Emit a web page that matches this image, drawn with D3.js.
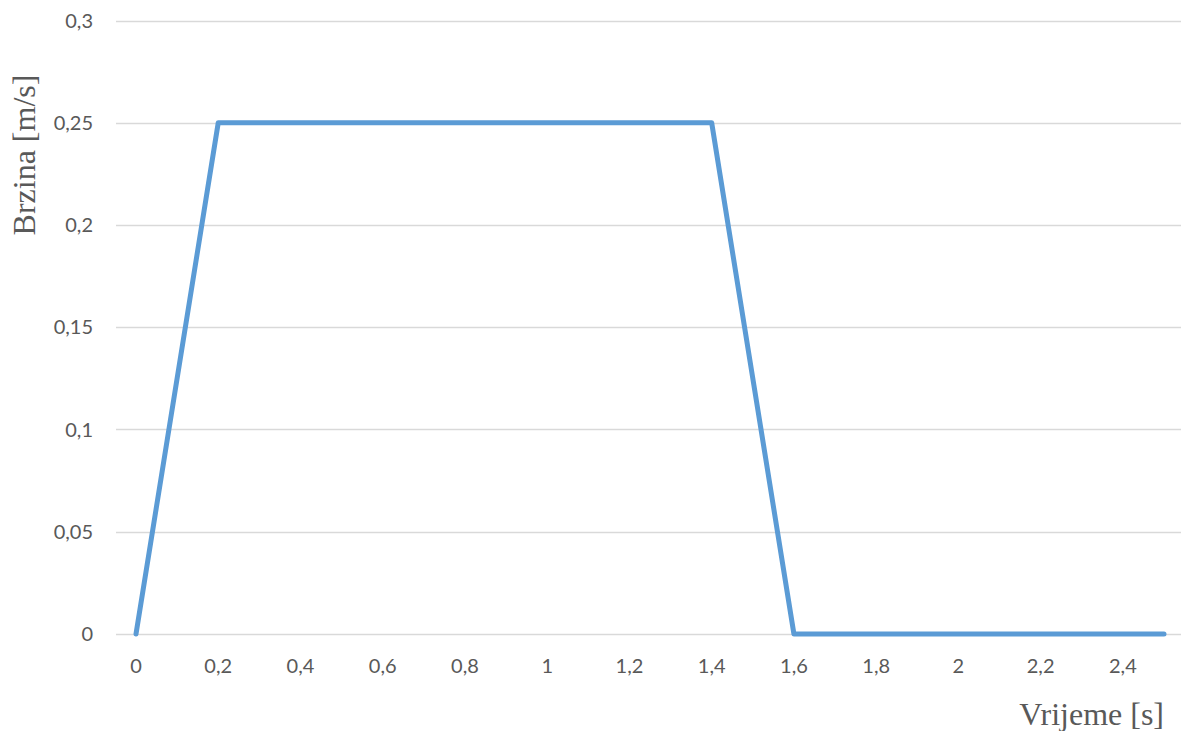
<!DOCTYPE html>
<html>
<head>
<meta charset="utf-8">
<script src="https://cdn.jsdelivr.net/npm/d3@7"></script>
<style>
  body { margin: 0; background: #fff; }
  svg { display: block; }
</style>
</head>
<body>
<div id="chart"></div>
<script>
// time [s] and speed [m/s]
var times = [0, 0.2, 1.4, 1.6, 2.5];
var speeds = [0, 0.25, 0.25, 0, 0];
var xTicks = [0, 0.2, 0.4, 0.6, 0.8, 1, 1.2, 1.4, 1.6, 1.8, 2, 2.2, 2.4];
var yTicks = [0, 0.05, 0.1, 0.15, 0.2, 0.25, 0.3];

var width = 1181, height = 731;
var svg = d3.select("#chart").append("svg").attr("width", width).attr("height", height);

var x = d3.scaleLinear().domain([0, 2.5]).range([136, 1164]);
var y = d3.scaleLinear().domain([0, 0.3]).range([634, 20.5]);

var fmt = function(d){ return String(d).replace(".", ","); };

// gridlines
svg.append("g").selectAll("line").data(yTicks).enter().append("line")
	.attr("x1", 116).attr("x2", width)
	.attr("y1", function(d){ return Math.round(y(d)) + 0.5; })
	.attr("y2", function(d){ return Math.round(y(d)) + 0.5; })
	.attr("stroke", "#d9d9d9").attr("stroke-width", 1.3);

// y tick labels
svg.append("g").selectAll("text").data(yTicks).enter().append("text")
	.attr("x", 93).attr("y", function(d){ return y(d); })
	.attr("dy", "0.35em")
	.attr("text-anchor", "end")
	.attr("fill", "#595959")
	.style("font-family", "Lato, 'Open Sans', sans-serif").style("font-size", "20px")
	.text(fmt);

// x tick labels
svg.append("g").selectAll("text").data(xTicks).enter().append("text")
	.attr("x", function(d){ return x(d); }).attr("y", 666)
	.attr("dy", "0.35em")
	.attr("text-anchor", "middle")
	.attr("fill", "#595959")
	.style("font-family", "Lato, 'Open Sans', sans-serif").style("font-size", "20px")
	.text(fmt);

// data line
var pts = times.map(function(t, i){ return [t, speeds[i]]; });
svg.append("path").datum(pts)
	.attr("d", d3.line().x(function(d){ return x(d[0]); }).y(function(d){ return y(d[1]); }))
	.attr("fill", "none")
	.attr("stroke", "#5b9bd5")
	.attr("stroke-width", 5)
	.attr("stroke-linecap", "round")
	.attr("stroke-linejoin", "round");

// axis titles
svg.append("text")
	.attr("transform", "translate(35,155) rotate(-90)")
	.attr("text-anchor", "middle")
	.attr("fill", "#595959")
	.style("font-family", "'Liberation Serif', 'Times New Roman', serif").style("font-size", "32px")
	.text("Brzina [m/s]");

svg.append("text")
	.attr("x", 1164).attr("y", 725)
	.attr("text-anchor", "end")
	.attr("fill", "#595959")
	.style("font-family", "'Liberation Serif', 'Times New Roman', serif").style("font-size", "32px")
	.text("Vrijeme [s]");
</script>
</body>
</html>
